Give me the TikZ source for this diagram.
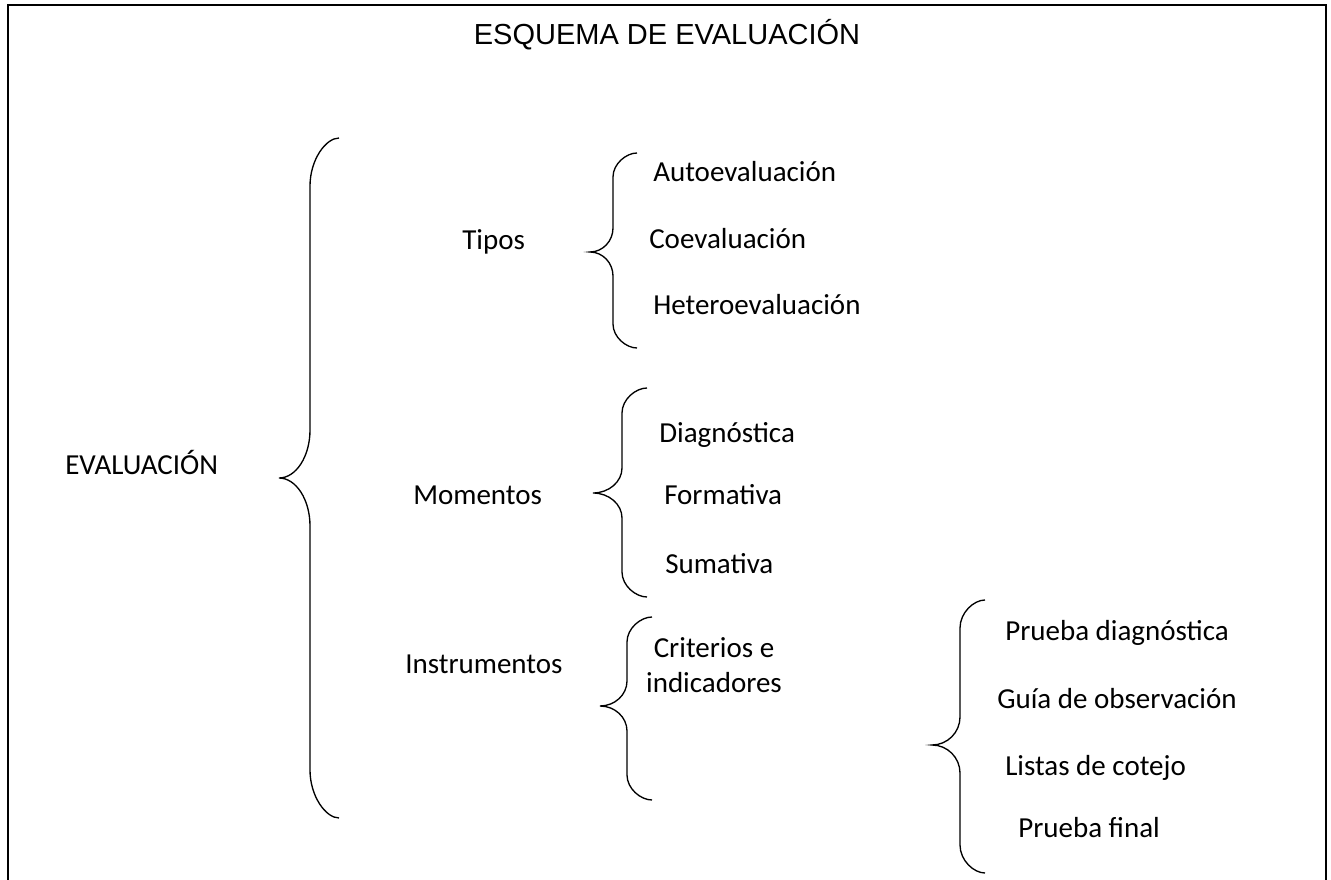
\documentclass[tikz,border=0pt]{standalone}
\usepackage{fontspec}
\setmainfont{Carlito}
\newfontfamily\titlefont{Liberation Sans}
\usetikzlibrary{positioning}

% brace: x end, x stem, x tip, y top, y tip, y bottom, corner
\newcommand{\llave}[7]{%
  \draw[llave] (#1,#4) .. controls ({#2+0.55*(#1-#2)},#4) and (#2,{#4+0.45*#7}) .. (#2,{#4+#7})
    -- (#2,{#5-#7}) .. controls (#2,{#5-0.45*#7}) and ({#3+0.55*(#2-#3)},#5) .. (#3,#5)
    .. controls ({#3+0.55*(#2-#3)},#5) and (#2,{#5+0.45*#7}) .. (#2,{#5+#7})
    -- (#2,{#6-#7}) .. controls (#2,{#6-0.45*#7}) and ({#2+0.55*(#1-#2)},#6) .. (#1,#6);}

\tikzset{
  llave/.style={line width=1pt},
  marco/.style={line width=1.5pt},
  txt/.style={inner sep=0pt, anchor=base west, font=\fontsize{21.75}{26}\selectfont},
}

\begin{document}
\begin{tikzpicture}[x=0.75pt, y=-0.75pt]
        \useasboundingbox (0,0) rectangle (1331,880);
        \draw[marco] (7.5,880) -- (7.5,5.5) -- (1326,5.5) -- (1326,880);

        \node[txt, anchor=base, font=\titlefont\fontsize{21.75}{26}\selectfont] (titulo) at (667,45) {ESQUEMA DE EVALUACIÓN};

        \node[txt] (eval)  at (65,474)  {EVALUACIÓN};
        \node[txt] (tipos) at (462,250) {Tipos};
        \node[txt] (mom)   at (413,504) {Momentos};
        \node[txt] (inst)  at (405,673) {Instrumentos};

        \node[txt] (auto)   at (653,182) {Autoevaluación};
        \node[txt] (coev)   at (649,249) {Coevaluación};
        \node[txt] (hetero) at (653,315) {Heteroevaluación};

        \node[txt] (diag) at (659,442) {Diagnóstica};
        \node[txt] (form) at (664,504) {Formativa};
        \node[txt] (suma) at (665,573) {Sumativa};

        \node[txt, anchor=center, align=center] (crit) at (714,665) {Criterios e\\indicadores};

        \node[txt] (pdiag) at (1005,640) {Prueba diagnóstica};
        \node[txt] (guia)  at (997,708)  {Guía de observación};
        \node[txt] (listas) at (1005,775) {Listas de cotejo};
        \node[txt] (pfinal) at (1018,837) {Prueba final};

        \llave{339}{310}{279}{138}{478}{818}{48}
        \llave{637}{613}{590}{153}{252}{348}{24}
        \llave{647}{622}{593}{388}{493}{597}{25}
        \llave{652}{627}{600}{617}{706}{800}{25}
        \llave{985}{960}{932}{600}{745}{873}{28}
\end{tikzpicture}
\end{document}
